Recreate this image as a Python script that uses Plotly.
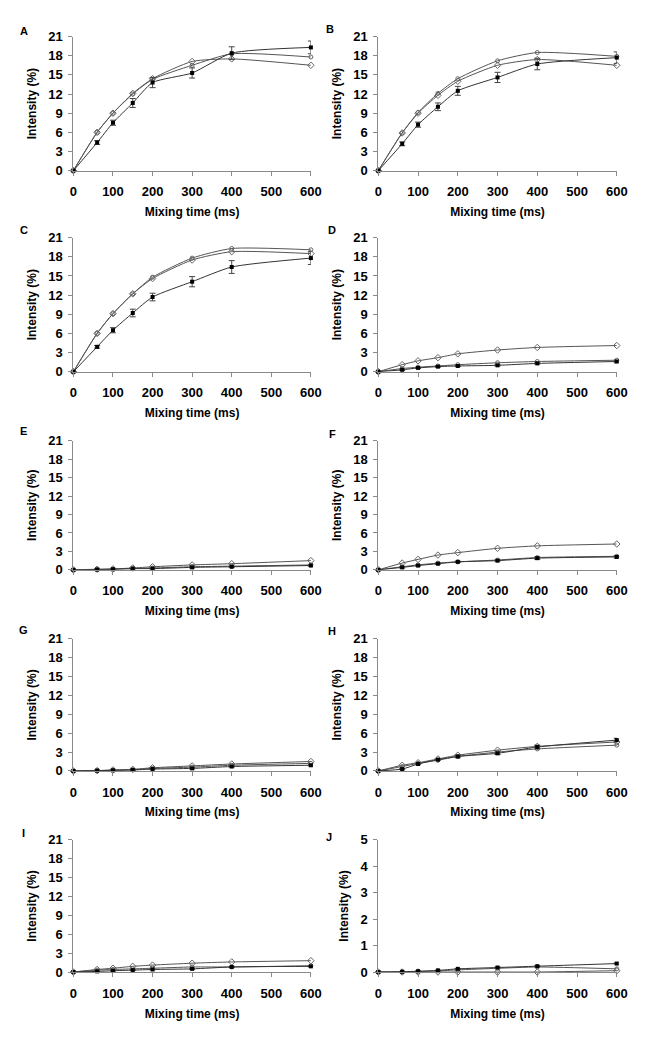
import plotly.graph_objects as go

# ---- data ----
mixing_time = [0, 60, 100, 150, 200, 300, 400, 600]
panel_labels = ["A", "B", "C", "D", "E", "F", "G", "H", "I", "J"]

# filled markers (with error bars)
filled = {
    "A": [0, 4.4, 7.5, 10.6, 13.8, 15.3, 18.4, 19.3],
    "B": [0, 4.2, 7.2, 10.0, 12.5, 14.6, 16.7, 17.7],
    "C": [0, 3.9, 6.5, 9.2, 11.7, 14.1, 16.4, 17.8],
    "D": [0, 0.3, 0.6, 0.8, 0.9, 1.0, 1.3, 1.6],
    "E": [0, 0.05, 0.1, 0.2, 0.2, 0.4, 0.5, 0.7],
    "F": [0, 0.4, 0.7, 1.0, 1.3, 1.5, 1.9, 2.1],
    "G": [0, 0.05, 0.1, 0.15, 0.3, 0.4, 0.7, 0.9],
    "H": [0, 0.3, 1.1, 1.8, 2.3, 2.8, 3.8, 4.9],
    "I": [0, 0.1, 0.2, 0.3, 0.4, 0.5, 0.8, 0.9],
    "J": [0, 0.01, 0.03, 0.06, 0.12, 0.17, 0.22, 0.32],
}
filled_err = {
    "A": [0, 0.3, 0.4, 0.7, 0.8, 0.8, 1.0, 1.0],
    "B": [0, 0.3, 0.4, 0.6, 0.7, 0.8, 0.9, 0.9],
    "C": [0, 0.2, 0.4, 0.6, 0.6, 0.8, 1.0, 1.0],
    "D": [0, 0.1, 0.1, 0.1, 0.1, 0.1, 0.1, 0.2],
    "E": [0, 0.05, 0.05, 0.05, 0.05, 0.1, 0.1, 0.1],
    "F": [0, 0.1, 0.1, 0.1, 0.1, 0.1, 0.2, 0.2],
    "G": [0, 0.05, 0.05, 0.05, 0.05, 0.1, 0.1, 0.1],
    "H": [0, 0.1, 0.1, 0.1, 0.2, 0.2, 0.3, 0.3],
    "I": [0, 0.05, 0.05, 0.05, 0.05, 0.1, 0.1, 0.1],
    "J": [0, 0.01, 0.01, 0.01, 0.01, 0.02, 0.02, 0.02],
}
# open circles
open_circle = {
    "A": [0, 6.0, 9.0, 12.0, 14.3, 16.5, 18.3, 17.8],
    "B": [0, 5.9, 9.1, 12.1, 14.4, 17.2, 18.5, 17.9],
    "C": [0, 6.0, 9.1, 12.2, 14.8, 17.8, 19.3, 19.1],
    "D": [0, 0.5, 0.7, 0.9, 1.1, 1.4, 1.6, 1.8],
    "E": [0, 0.05, 0.1, 0.2, 0.3, 0.5, 0.6, 0.8],
    "F": [0, 0.5, 0.8, 1.1, 1.3, 1.6, 2.0, 2.2],
    "G": [0, 0.05, 0.1, 0.2, 0.4, 0.6, 0.9, 1.2],
    "H": [0, 0.7, 1.2, 1.7, 2.3, 3.0, 3.5, 4.1],
    "I": [0, 0.3, 0.4, 0.5, 0.6, 0.8, 0.8, 1.0],
    "J": [0, 0.0, 0.02, 0.04, 0.08, 0.14, 0.19, 0.12],
}
# open diamonds
open_diamond = {
    "A": [0, 6.0, 9.0, 12.1, 14.4, 17.1, 17.5, 16.5],
    "B": [0, 5.9, 9.0, 11.8, 14.0, 16.5, 17.4, 16.5],
    "C": [0, 6.0, 9.1, 12.2, 14.6, 17.5, 18.8, 18.5],
    "D": [0, 1.1, 1.7, 2.2, 2.8, 3.4, 3.8, 4.1],
    "E": [0, 0.1, 0.15, 0.3, 0.5, 0.8, 1.0, 1.5],
    "F": [0, 1.1, 1.7, 2.4, 2.8, 3.5, 3.9, 4.2],
    "G": [0, 0.05, 0.15, 0.25, 0.5, 0.8, 1.1, 1.5],
    "H": [0, 0.9, 1.3, 1.9, 2.5, 3.3, 3.9, 4.6],
    "I": [0, 0.4, 0.6, 0.9, 1.1, 1.4, 1.6, 1.8],
    "J": [0, 0.0, 0.0, 0.0, 0.0, 0.0, 0.0, 0.05],
}
x_ticks = [0, 100, 200, 300, 400, 500, 600]
y_ticks_main = [0, 3, 6, 9, 12, 15, 18, 21]
y_ticks_j = [0, 1, 2, 3, 4, 5]

# ---- layout geometry (pixels) ----
W, H = 661, 1050
col_x = [(71, 314), (383, 627)]
row_y = [(30, 166), (234, 370), (440, 571), (641, 775), (845, 979)]
letter_pos = [(20, 24), (334, 22), (20, 226), (336, 226), (20, 430),
              (336, 433), (20, 632), (336, 633), (20, 838), (333, 842)]

FONT = "Liberation Sans, Arial, sans-serif"
axis_col = "#8a8a8a"
line_col = "#555555"

fig = go.Figure()
layout = {}
annotations = []

for i, lab in enumerate(panel_labels):
    r, c = divmod(i, 2)
    n = "" if i == 0 else str(i + 1)
    xa, ya = "x" + n, "y" + n
    x0, x1 = col_x[c]
    yt, yb = row_y[r]
    ymax = 5 if lab == "J" else 21
    yt_vals = y_ticks_j if lab == "J" else y_ticks_main

    common_line = dict(color=line_col, width=1, shape="spline", smoothing=0.6)
    fig.add_trace(go.Scatter(
        x=mixing_time, y=open_diamond[lab], mode="lines+markers",
        line=common_line, xaxis=xa, yaxis=ya, cliponaxis=False,
        marker=dict(symbol="diamond-open", size=5, color="#666666",
                    line=dict(width=1)),
        showlegend=False))
    fig.add_trace(go.Scatter(
        x=mixing_time, y=open_circle[lab], mode="lines+markers",
        line=common_line, xaxis=xa, yaxis=ya, cliponaxis=False,
        marker=dict(symbol="circle-open", size=4, color="#666666",
                    line=dict(width=1)),
        showlegend=False))
    fig.add_trace(go.Scatter(
        x=mixing_time, y=filled[lab], mode="lines+markers",
        line=dict(color="#333333", width=1, shape="spline", smoothing=0.6),
        xaxis=xa, yaxis=ya, cliponaxis=False,
        marker=dict(symbol="square", size=4, color="black"),
        error_y=dict(type="data", array=filled_err[lab], visible=True,
                     color="#444444", thickness=1, width=3),
        showlegend=False))

    layout["xaxis" + n] = dict(
        domain=[x0 / W, x1 / W], anchor=ya, range=[0, 600],
        tickvals=x_ticks, ticks="outside", ticklen=4, tickcolor=axis_col,
        ticklabelstandoff=5,
        showline=True, linecolor=axis_col, linewidth=1, showgrid=False,
        zeroline=False,
        tickfont=dict(family=FONT, size=13, color="black", weight="bold"),
        title=dict(text="Mixing time (ms)", standoff=9,
                   font=dict(family=FONT, size=12, color="black", weight="bold")))
    layout["yaxis" + n] = dict(
        domain=[1 - yb / H, 1 - yt / H], anchor=xa, range=[0, ymax],
        tickvals=yt_vals, ticks="outside", ticklen=4, tickcolor=axis_col,
        ticklabelstandoff=3,
        showline=True, linecolor=axis_col, linewidth=1, showgrid=False,
        zeroline=False,
        tickfont=dict(family=FONT, size=13, color="black", weight="bold"),
        title=dict(text="Intensity (%)", standoff=9,
                   font=dict(family=FONT, size=12, color="black", weight="bold")))

    lx, ly = letter_pos[i]
    annotations.append(dict(
        text=lab, x=lx / W, y=1 - ly / H, xref="paper", yref="paper",
        showarrow=False, xanchor="center", yanchor="middle",
        font=dict(family=FONT, size=11, color="black", weight="bold")))

fig.update_layout(
    width=W, height=H, margin=dict(l=0, r=0, t=0, b=0),
    paper_bgcolor="white", plot_bgcolor="white",
    annotations=annotations, **layout)

fig.write_html("out.html",
               config={"displayModeBar": False},
               post_script="document.body.style.margin='0';"
                           "document.body.style.overflow='hidden';")
